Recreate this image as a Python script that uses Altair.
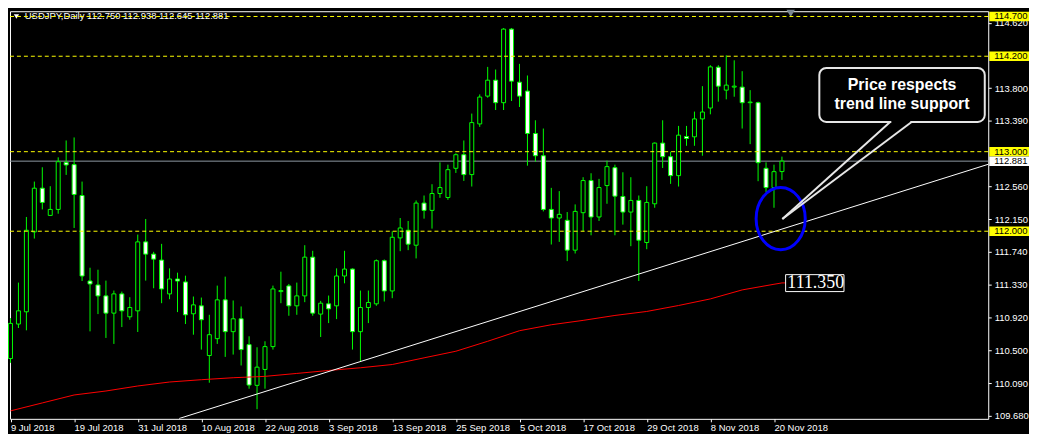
import altair as alt
import pandas as pd

# ---------------- data ----------------
opens = [110.399, 110.833, 110.987, 111.991, 112.541, 112.199, 112.274, 112.866, 112.837, 112.449,
         111.374, 111.324, 111.187, 110.970, 111.212, 110.924, 110.999, 111.866, 111.712, 111.637,
         111.212, 111.399, 111.362, 110.962, 111.062, 110.437, 110.649, 111.137, 110.737, 110.899,
         110.574, 110.062, 110.262, 110.549, 111.241, 111.312, 111.062, 111.187, 111.674, 110.958,
         111.087, 111.062, 111.437, 111.524, 110.737, 111.041, 111.087, 111.629, 111.249, 111.916,
         112.012, 111.824, 112.354, 112.262, 112.474, 112.424, 112.791, 112.962, 112.712, 113.349,
         113.699, 113.899, 113.616, 114.541, 113.874, 113.762, 113.229, 112.949, 112.274, 112.166,
         112.137, 111.762, 112.233, 112.637, 112.179, 112.574, 112.799, 112.437, 112.241, 112.387,
         111.858, 112.345, 113.108, 112.937, 112.699, 113.191, 113.187, 113.412, 113.549, 114.062,
         113.774, 113.812, 113.812, 113.616, 113.616, 112.791, 112.549, 112.750]
highs = [110.908, 111.354, 112.179, 112.624, 112.804, 112.566, 112.929, 113.141, 113.179, 112.624,
         111.541, 111.516, 111.379, 111.254, 111.241, 111.170, 111.958, 112.154, 111.741, 111.841,
         111.533, 111.479, 111.441, 111.179, 111.166, 110.949, 111.316, 111.429, 111.129, 111.054,
         110.679, 110.541, 110.616, 111.316, 111.491, 111.337, 111.354, 111.824, 111.754, 111.124,
         111.191, 111.533, 111.754, 111.533, 111.254, 111.254, 111.645, 111.645, 111.999, 112.166,
         112.129, 112.387, 112.449, 112.591, 112.866, 112.837, 112.979, 113.141, 113.479, 113.720,
         114.066, 114.033, 114.554, 114.554, 114.104, 113.958, 113.395, 113.291, 112.545, 112.504,
         112.241, 112.337, 112.679, 112.729, 112.658, 112.887, 112.837, 112.741, 112.679, 112.449,
         112.566, 113.116, 113.395, 112.999, 113.324, 113.324, 113.504, 113.824, 114.087, 114.087,
         114.212, 114.149, 114.012, 113.774, 113.629, 112.866, 112.837, 112.938]
lows = [110.345, 110.783, 110.754, 111.908, 112.274, 112.191, 112.220, 112.708, 112.041, 111.374,
        110.741, 110.958, 110.658, 110.583, 110.795, 110.887, 110.733, 111.379, 111.283, 111.095,
        111.145, 110.983, 110.833, 110.699, 110.512, 110.095, 110.583, 110.420, 110.449, 110.312,
        110.020, 109.762, 110.020, 110.512, 111.095, 110.937, 110.949, 111.108, 110.937, 110.670,
        110.845, 110.895, 111.345, 110.512, 110.366, 110.845, 111.062, 111.116, 111.158, 111.749,
        111.762, 111.658, 112.158, 112.033, 112.420, 112.395, 112.733, 112.633, 112.562, 113.312,
        113.679, 113.524, 113.524, 113.637, 113.562, 112.824, 112.874, 112.249, 111.833, 111.866,
        111.624, 111.720, 111.999, 111.949, 112.129, 112.345, 111.949, 112.083, 111.812, 111.374,
        111.774, 112.295, 112.795, 112.595, 112.562, 113.074, 113.074, 112.949, 113.470, 113.629,
        113.658, 113.691, 113.291, 113.095, 112.629, 112.491, 112.295, 112.645]
closes = [110.841, 110.999, 112.012, 112.541, 112.362, 112.274, 112.874, 112.833, 112.462, 111.437,
          111.337, 111.187, 110.970, 111.212, 110.999, 111.041, 111.866, 111.712, 111.649, 111.274,
          111.399, 111.374, 110.949, 111.074, 110.887, 110.699, 111.137, 110.737, 110.899, 110.512,
          110.066, 110.291, 110.549, 111.274, 111.254, 111.062, 111.187, 111.674, 110.970, 111.095,
          111.024, 111.437, 111.524, 110.737, 111.041, 111.104, 111.629, 111.249, 111.924, 112.041,
          111.837, 112.354, 112.262, 112.474, 112.549, 112.774, 112.962, 112.712, 113.366, 113.687,
          113.899, 113.616, 114.541, 113.887, 113.699, 113.229, 112.949, 112.274, 112.166, 112.212,
          111.762, 112.249, 112.637, 112.179, 112.549, 112.812, 112.441, 112.241, 112.387, 111.887,
          112.362, 113.108, 112.937, 112.699, 113.208, 113.166, 113.412, 113.499, 114.066, 113.824,
          113.837, 113.824, 113.616, 113.624, 112.862, 112.549, 112.749, 112.881]

tick_idx = [0, 8, 16, 24, 32, 40, 48, 56, 64, 72, 80, 88, 96]
tick_labels = ["9 Jul 2018", "19 Jul 2018", "31 Jul 2018", "10 Aug 2018", "22 Aug 2018",
               "3 Sep 2018", "13 Sep 2018", "25 Sep 2018", "5 Oct 2018", "17 Oct 2018",
               "29 Oct 2018", "8 Nov 2018", "20 Nov 2018"]

price_ticks = [114.62, 113.8, 113.39, 112.56, 112.15, 111.74, 111.33, 110.92, 110.5, 110.09, 109.68]
level_lines = [114.7, 114.2, 113.0, 112.0]
bid_price = 112.881

ma_idx = [0, 4, 8, 12, 16, 20, 24, 28, 32, 36, 40, 44, 48, 52, 56, 60, 64, 68, 72, 76, 80, 84, 88, 92, 96, 97]
ma_val = [109.741, 109.841, 109.941, 109.991, 110.054, 110.104, 110.133, 110.158, 110.175, 110.212,
          110.249, 110.283, 110.324, 110.408, 110.491, 110.616, 110.749, 110.824, 110.879, 110.941,
          110.991, 111.066, 111.149, 111.262, 111.333, 111.350]

trend_idx = [21.2, 123.3]
trend_val = [109.645, 112.853]

title_text = "USDJPY,Daily  112.750 112.938 112.645 112.881"
callout_lines = ["Price respects", "trend line support"]
ma_label = "111.350"

# annotation anchors (bar index, price)
title_pos = (1.8, 114.70)
title_marker = (0.75, 114.70)
shift_marker = (98.1, 114.74)
ellipse_center = (96.84, 112.158)
callout_box = (101.7, 122.5, 114.053, 113.374)
callout_text_i = 112.1
callout_text_p = [113.837, 113.595]
pointer_base = [(110.6, 113.374), (113.3, 113.374)]
pointer_tip = (97.05, 112.153)
ma_box = (97.46, 104.8, 111.454, 111.241)

# ---------------- layout ----------------
W, H = 984, 410
XD = [-0.0625, 122.9375]
YD = [109.641, 114.766]
FONT = "Liberation Sans"
LIME = "#00ff00"

xs = alt.Scale(domain=XD, nice=False, zero=False)
ys = alt.Scale(domain=YD, nice=False, zero=False)

label_js = "[" + ",".join("'" + s + "'" for s in tick_labels) + "]"

x_axis = alt.Axis(values=tick_idx, labelExpr=label_js + "[round(datum.value/8)]",
                  tickSize=3, tickColor="white", labelColor="white", labelAlign="left",
                  labelBaseline="top", labelPadding=1, domain=False, grid=False, title=None,
                  labelFont=FONT, labelFontSize=9.5, labelOverlap=False, labelFlush=False,
                  labelBound=False)
y_axis = alt.Axis(orient="right", values=price_ticks, format=".3f", tickSize=3,
                  tickColor="white", labelColor="white", labelPadding=3, domain=False,
                  grid=False, title=None, labelFont=FONT, labelFontSize=9.5,
                  labelOverlap=False, labelFlush=False, labelBound=False)


def X(f):
    return alt.X(f, type="quantitative", scale=xs, axis=x_axis)


def X2(f):
    return alt.X2(f)


def Y(f):
    return alt.Y(f, type="quantitative", scale=ys, axis=y_axis)


n = len(opens)
candles = pd.DataFrame({
    "i": list(range(n)),
    "o": opens, "h": highs, "l": lows, "c": closes,
})
candles["x0"] = candles["i"] - 0.25
candles["x1"] = candles["i"] + 0.25
candles["fill"] = ["black" if c >= o else "white" for o, c in zip(opens, closes)]

# bid line (behind candles)
bid_df = pd.DataFrame({"p": [bid_price]})
bid_layer = alt.Chart(bid_df).mark_rule(color="#8e98a2", strokeWidth=1).encode(y=Y("p"))

# wicks
wick_layer = alt.Chart(candles).mark_rule(color=LIME, strokeWidth=1).encode(
    x=X("i"), y=Y("l"), y2=alt.Y2("h"))

# bodies
body_layer = alt.Chart(candles).mark_rect(stroke=LIME, strokeWidth=1).encode(
    x=X("x0"), x2=X2("x1"), y=Y("o"), y2=alt.Y2("c"),
    fill=alt.Fill("fill:N", scale=None))

# moving average
ma_df = pd.DataFrame({"i": ma_idx, "v": ma_val})
ma_layer = alt.Chart(ma_df).mark_line(color="#ff0000", strokeWidth=1).encode(
    x=X("i"), y=Y("v"))

# trend line
tr_df = pd.DataFrame({"i": trend_idx, "v": trend_val})
trend_layer = alt.Chart(tr_df).mark_line(color="white", strokeWidth=1, clip=True).encode(
    x=X("i"), y=Y("v"))

# title text + marker
title_df = pd.DataFrame({"i": [title_pos[0]], "p": [title_pos[1]], "t": [title_text]})
title_layer = alt.Chart(title_df).mark_text(align="left", baseline="middle", color="white",
                                            font=FONT, fontSize=9.5).encode(
    x=X("i"), y=Y("p"), text="t:N")
tm_df = pd.DataFrame({"i": [title_marker[0]], "p": [title_marker[1]]})
tm_layer = alt.Chart(tm_df).mark_point(shape="triangle-down", filled=True, color="white",
                                        size=28, opacity=1).encode(x=X("i"), y=Y("p"))
sm_df = pd.DataFrame({"i": [shift_marker[0]], "p": [shift_marker[1]]})
sm_layer = alt.Chart(sm_df).mark_point(shape="triangle-down", filled=True, color="#7b8894",
                                        size=70, opacity=1).encode(x=X("i"), y=Y("p"))

# yellow level lines
lv_df = pd.DataFrame({"p": level_lines})
level_layer = alt.Chart(lv_df).mark_rule(color="#ffff00", strokeWidth=1, strokeDash=[4, 3]).encode(
    y=Y("p"))

# blue ellipse
el_df = pd.DataFrame({"i": [ellipse_center[0]], "p": [ellipse_center[1]]})
ellipse_layer = alt.Chart(el_df).mark_point(
    shape="M -0.789 0 A 0.789 1 0 1 0 0.789 0 A 0.789 1 0 1 0 -0.789 0 Z",
    filled=False, stroke="#0000ff", strokeWidth=3, size=3920, opacity=1).encode(
    x=X("i"), y=Y("p"))

# callout box
cb_df = pd.DataFrame({"a": [callout_box[0]], "b": [callout_box[1]],
                      "t": [callout_box[2]], "u": [callout_box[3]]})
cbox_layer = alt.Chart(cb_df).mark_rect(fill="black", stroke="#e6e6e6", strokeWidth=2,
                                         cornerRadius=7).encode(
    x=X("a"), x2=X2("b"), y=Y("t"), y2=alt.Y2("u"))
gap_df = pd.DataFrame({"a": [pointer_base[0][0] + 0.15], "b": [pointer_base[1][0] - 0.15],
                       "p": [pointer_base[0][1]]})
gap_layer = alt.Chart(gap_df).mark_rule(color="black", strokeWidth=4).encode(
    x=X("a"), x2=X2("b"), y=Y("p"))
ptr_rows = []
for k, (bi, bp) in enumerate(pointer_base):
    ptr_rows.append({"seg": k, "o": 0, "i": bi, "p": bp})
    ptr_rows.append({"seg": k, "o": 1, "i": pointer_tip[0], "p": pointer_tip[1]})
ptr_df = pd.DataFrame(ptr_rows)
ptr_layer = alt.Chart(ptr_df).mark_line(color="#e6e6e6", strokeWidth=2).encode(
    x=X("i"), y=Y("p"), detail="seg:N", order="o:Q")
ct_df = pd.DataFrame({"i": [callout_text_i] * 2, "p": callout_text_p, "t": callout_lines})
ctext_layer = alt.Chart(ct_df).mark_text(align="center", baseline="middle", color="white",
                                          font=FONT, fontSize=16, fontWeight="bold").encode(
    x=X("i"), y=Y("p"), text="t:N")

# MA value label
mb_df = pd.DataFrame({"a": [ma_box[0]], "b": [ma_box[1]], "t": [ma_box[2]], "u": [ma_box[3]]})
mbox_layer = alt.Chart(mb_df).mark_rect(fill="black", stroke="white", strokeWidth=1).encode(
    x=X("a"), x2=X2("b"), y=Y("t"), y2=alt.Y2("u"))
mc_df = pd.DataFrame({"a": [ma_idx[-1]], "b": [ma_box[0]], "p": [ma_val[-1]]})
mconn_layer = alt.Chart(mc_df).mark_rule(color="#ff0000", strokeWidth=1).encode(
    x=X("a"), x2=X2("b"), y=Y("p"))
mt_df = pd.DataFrame({"i": [ma_box[0] + 0.22], "p": [ma_val[-1]], "t": [ma_label]})
mtext_layer = alt.Chart(mt_df).mark_text(align="left", baseline="middle", color="white",
                                          font="Liberation Serif", fontSize=18).encode(
    x=X("i"), y=Y("p"), text="t:N")

# right-axis badges
badges = pd.DataFrame({
    "p": level_lines + [bid_price],
    "bg": ["#ffff00"] * len(level_lines) + ["white"],
})
badges["t"] = badges["p"].map(lambda v: f"{v:.3f}")
badges["top"] = badges["p"] + 0.06
badges["bot"] = badges["p"] - 0.06
badge_rect = alt.Chart(badges).mark_rect().encode(
    x=alt.value(W + 1), x2=alt.value(W + 41), y=Y("top"), y2=alt.Y2("bot"),
    fill=alt.Fill("bg:N", scale=None))
badge_text = alt.Chart(badges).mark_text(align="left", baseline="middle", color="black",
                                          font=FONT, fontSize=9.5).encode(
    x=alt.value(W + 6), y=Y("p"), text="t:N")

chart = alt.layer(
    bid_layer, wick_layer, body_layer, ma_layer, trend_layer,
    title_layer, tm_layer, sm_layer, level_layer,
    ellipse_layer, cbox_layer, gap_layer, ptr_layer, ctext_layer,
    mconn_layer, mbox_layer, mtext_layer,
    badge_rect, badge_text,
).properties(
    width=W, height=H, padding={"left": 0, "top": 0, "right": 0, "bottom": 0}
).configure(
    background="black"
).configure_view(
    stroke="white", strokeWidth=1
)

chart.save("out.html", embed_options={"renderer": "svg", "actions": False})
